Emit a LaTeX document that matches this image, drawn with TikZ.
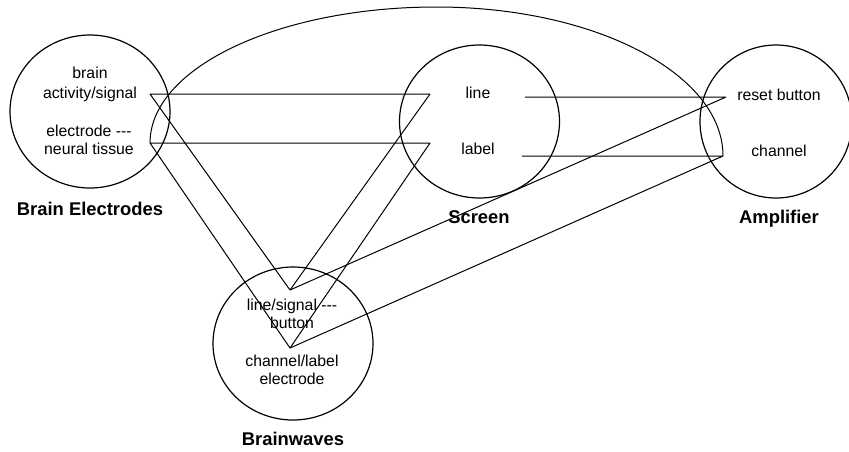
\documentclass[tikz,border=0pt]{standalone}
\usepackage{fontspec}
\setmainfont{Liberation Sans}
\usetikzlibrary{shapes.geometric}
\begin{document}
\begin{tikzpicture}[x=1pt,y=-1pt,
  bubble/.style={ellipse, draw, line width=1.2pt, minimum width=160pt, minimum height=153pt, inner sep=0pt},
  item/.style={anchor=base, inner sep=0pt, font=\fontsize{15.8}{18.5}\selectfont},
  title/.style={anchor=base, inner sep=0pt, font=\fontsize{18.4}{22}\selectfont\bfseries},
  link/.style={line width=1pt, line join=bevel}]
\path[use as bounding box, clip] (0,0) rectangle (849,451);

% the four groups
\node[bubble] (brainE) at (90,111.5) {};
\node[bubble] (screen) at (479.5,121.5) {};
\node[bubble, minimum width=152pt] (amp) at (776,121.5) {};
\node[bubble] (waves) at (293,343.5) {};

% group titles
\node[title] (brainE-t) at (90,215) {Brain Electrodes};
\node[title] (screen-t) at (479,223) {Screen};
\node[title] (amp-t) at (779,223) {Amplifier};
\node[title] (waves-t) at (293,445) {Brainwaves};

% items (hyphens kept apart so they are not joined into a dash)
\node[item] (be-a1) at (90,78) {brain};
\node[item] (be-a2) at (90,98) {activity/signal};
\node[item] (be-b1) at (89,136) {electrode -{}-{}-};
\node[item] (be-b2) at (89,154) {neural tissue};
\node[item] (sc-a) at (478,98) {line};
\node[item] (sc-b) at (478,154) {label};
\node[item] (am-a) at (779,100) {reset button};
\node[item] (am-b) at (779,156) {channel};
\node[item] (bw-a1) at (292,310) {line/signal -{}-{}-};
\node[item] (bw-a2) at (292,328) {button};
\node[item] (bw-b1) at (292,366) {channel/label};
\node[item] (bw-b2) at (292,384) {electrode};

% connector end points
\coordinate (be1) at (150,94);
\coordinate (be2) at (150,143);
\coordinate (sL1) at (430,94);
\coordinate (sL2) at (430,143);
\coordinate (sR1) at (525,97);
\coordinate (sR2) at (522,156);
\coordinate (ar) at (726,97);
\coordinate (ach) at (723,156);
\coordinate (p1) at (290,290);
\coordinate (p2) at (290,348);

% connectors
\draw[link] (be1) -- (sL1) -- (p1) -- cycle;
\draw[link] (be2) -- (sL2) -- (p2) -- cycle;
\draw[link] (sR1) -- (ar) -- (p1);
\draw[link] (sR2) -- (ach) -- (p2);
\draw[link] (be2) arc[start angle=180, end angle=90, x radius=286.5pt, y radius=136pt]
                  arc[start angle=90, end angle=0, x radius=286.5pt, y radius=149pt];
\end{tikzpicture}
\end{document}
